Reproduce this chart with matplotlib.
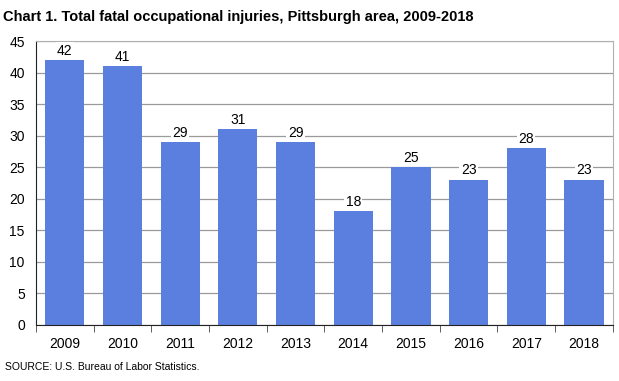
import matplotlib.pyplot as plt
import numpy as np

years = ["2009", "2010", "2011", "2012", "2013", "2014", "2015", "2016", "2017", "2018"]
fatalities = [42, 41, 29, 31, 29, 18, 25, 23, 28, 23]
yticks = [0, 5, 10, 15, 20, 25, 30, 35, 40, 45]

fig = plt.figure(figsize=(6.19, 3.81), dpi=100)
ax = fig.add_axes([0.058, 0.147, 0.932, 0.745])

x = np.arange(len(years))
ax.bar(x, fatalities, width=0.68, color="#5b7fde", zorder=2)

# label each bar with a white box so the gridline is broken behind it
for xi, v in zip(x, fatalities):
    ax.text(xi, v + 0.4, str(v), ha="center", va="bottom", fontsize=10,
            family="Liberation Sans", zorder=3,
            bbox=dict(facecolor="white", edgecolor="none", pad=1))

ax.set_xlim(-0.5, len(years) - 0.5)
ax.set_ylim(0, 45)
ax.set_yticks(yticks)
ax.set_yticklabels([str(t) for t in yticks], family="Liberation Sans", fontsize=10)
ax.yaxis.grid(True, color="#9a9a9a", linewidth=0.9, zorder=0)
ax.tick_params(axis="y", length=0, pad=8)

ax.set_xticks(x)
ax.set_xticklabels(years, family="Liberation Sans", fontsize=10)
ax.set_xticks(np.arange(len(years) + 1) - 0.5, minor=True)
ax.tick_params(axis="x", which="major", length=0, pad=9)
ax.tick_params(axis="x", which="minor", length=5, direction="out", color="#444444")

for side in ["top", "right"]:
    ax.spines[side].set_color("#b0b0b0")
ax.spines["left"].set_color("#222222")
ax.spines["bottom"].set_color("#222222")

fig.text(0.005, 0.975, "Chart 1. Total fatal occupational injuries, Pittsburgh area, 2009-2018",
         fontsize=10.5, fontweight="bold", family="Liberation Sans", va="top")
fig.text(0.008, 0.038, "SOURCE: U.S. Bureau of Labor Statistics.",
         fontsize=7.5, family="Liberation Sans", va="center")

fig.savefig("out.png", dpi=100)
